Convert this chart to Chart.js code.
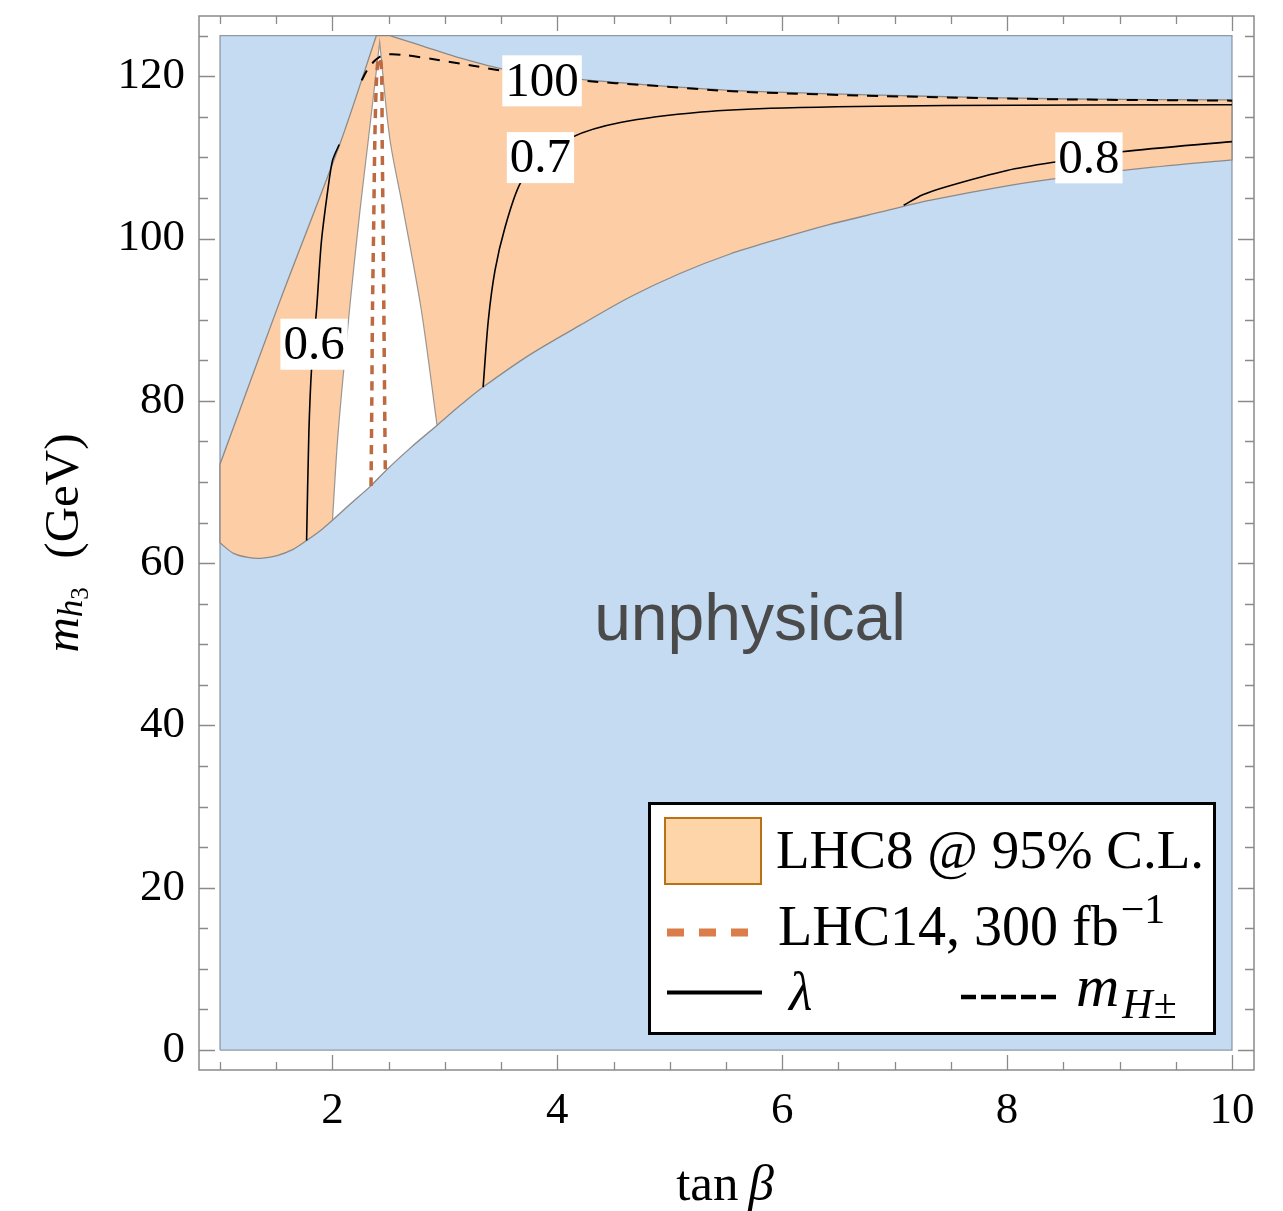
<!DOCTYPE html>
<html>
<head>
<meta charset="utf-8">
<script src="https://cdn.jsdelivr.net/npm/chart.js@4.4.1/dist/chart.umd.min.js"></script>
<style>
html, body { margin: 0; padding: 0; background: #fff; }
#wrap { width: 1283px; height: 1211px; position: relative; }
</style>
</head>
<body>
<div id="wrap"><canvas id="myChart"></canvas></div>
<script>
// all points as [tan beta, m_h3 (GeV)]

// edge of the physical region (blue below it is unphysical)
var lowerEdge = [
    [1.0, 62.5], [1.12, 61.2], [1.25, 60.7], [1.36, 60.6], [1.5, 60.9], [1.65, 61.7],
    [1.77, 62.8], [1.9, 64.1], [2.0, 65.3], [2.15, 67.2], [2.33, 69.4], [2.48, 71.5],
    [2.7, 74.3], [2.93, 77.0], [3.15, 79.6], [3.34, 81.7], [3.757, 85.7], [4.2, 89.3],
    [4.646, 92.8], [5.09, 95.7], [5.536, 98.1], [5.98, 100.0], [6.425, 101.75], [6.87, 103.25],
    [7.31, 104.7], [8.0, 106.5], [8.55, 107.6], [9.3, 108.8], [10.0, 109.7]
];
// top of the physical region
var upperEdge = [
    [1.0, 72.2], [1.53, 92.2], [2.07, 111.8], [2.39, 125.0], [2.51, 125.0], [2.65, 124.4],
    [2.81, 123.7], [3.1, 122.4], [3.55, 120.8], [4.14, 119.7], [4.74, 119.0], [5.64, 118.2],
    [7.1, 117.6], [8.55, 117.2], [10.0, 117.1]
];
// physical but outside the LHC8 95% region
var gapLeft = [[2.0, 65.3], [2.05, 76.0], [2.16, 92.4], [2.245, 103.5], [2.32, 112.3], [2.42, 124.2]];
var gapRight = [[2.42, 124.2], [2.51, 112.3], [2.63, 103.5], [2.79, 91.2], [2.93, 77.0]];
var physBox = [[1, 0], [1, 125], [10, 125], [10, 0], [1, 0]];

// lambda contours
var lambda06 = [
    [1.77, 62.8], [1.79, 76.0], [1.815, 84.2], [1.86, 91.5], [1.9, 99.4], [1.95, 105.1],
    [2.0, 109.6], [2.06, 111.6]
];
var lambda07 = [
    [3.34, 81.7], [3.386, 89.9], [3.446, 96.1], [3.535, 101.4], [3.67, 106.8], [3.85, 109.8],
    [4.13, 112.5], [4.56, 114.3], [5.28, 115.6], [6.01, 116.1], [7.46, 116.4], [10.0, 116.5]
];
var lambda08 = [
    [7.08, 104.1], [7.25, 105.4], [7.46, 106.4], [8.0, 108.4], [8.5, 109.6], [9.02, 110.7],
    [10.0, 111.95]
];
// m_H+- = 100 GeV contour
var chargedMass100 = [
    [2.26, 119.5], [2.31, 120.8], [2.36, 121.7], [2.42, 122.4], [2.5, 122.7], [2.65, 122.6],
    [2.9, 122.1], [3.25, 121.3], [3.55, 120.6], [4.29, 119.4], [4.74, 118.95], [5.64, 118.1],
    [7.1, 117.5], [8.55, 117.15], [10.0, 117.0]
];
// LHC14 300 fb^-1 reach
var lhc14 = [
    [2.343, 69.5], [2.35, 80.0], [2.356, 91.2], [2.367, 102.0], [2.377, 112.3], [2.39, 119.0],
    [2.405, 121.9], [2.425, 122.3], [2.438, 120.0], [2.442, 112.3], [2.45, 102.0],
    [2.457, 91.2], [2.464, 80.0], [2.47, 71.4]
];

var xTickValues = [1, 1.5, 2, 2.5, 3, 3.5, 4, 4.5, 5, 5.5, 6, 6.5, 7, 7.5, 8, 8.5, 9, 9.5, 10];
var xTickLabels = [2, 4, 6, 8, 10];
var yTickValues = [0, 5, 10, 15, 20, 25, 30, 35, 40, 45, 50, 55, 60, 65, 70, 75, 80, 85, 90,
    95, 100, 105, 110, 115, 120, 125];
var yTickLabels = [0, 20, 40, 60, 80, 100, 120];

var contourTexts = ['100', '0.7', '0.8', '0.6'];
var contourAt = [[3.864, 119.44], [3.85, 109.98], [8.728, 109.95], [1.836, 86.98]];

var SERIF = '"Liberation Serif", "Times New Roman", serif';

function pts(arr) {
    return arr.map(function(p) { return {x: p[0], y: p[1]}; });
}
// a repeated point keeps a sharp corner on a smoothed outline
function corner(p) { return [p, p]; }

var lowerInGap = lowerEdge.filter(function(p) { return p[0] > 2.0 && p[0] < 2.93; });

var orangeShape = [].concat(
    lowerEdge.slice(0, -1),
    corner(lowerEdge[lowerEdge.length - 1]),
    corner(upperEdge[upperEdge.length - 1]),
    upperEdge.slice(5, -1).reverse(),
    corner(upperEdge[4]), corner(upperEdge[3]),
    upperEdge.slice(1, 3).reverse(),
    corner(upperEdge[0]),
    [lowerEdge[0]]
);
var gapShape = [].concat(
    gapLeft.slice(0, -1),
    corner(gapLeft[gapLeft.length - 1]),
    gapRight.slice(1, -1),
    corner(gapRight[gapRight.length - 1]),
    lowerInGap.slice().reverse(),
    [gapLeft[0]]
);

function runs(ctx, parts, x, y) {
    parts.forEach(function(p) {
        ctx.font = p.f;
        ctx.fillText(p.t, x + (p.dx || 0), y + (p.dy || 0));
        x += ctx.measureText(p.t).width + (p.dx || 0);
    });
    return x;
}
function runsWidth(ctx, parts) {
    var w = 0;
    parts.forEach(function(p) { ctx.font = p.f; w += ctx.measureText(p.t).width + (p.dx || 0); });
    return w;
}

var frameTicks = {
    id: 'frameTicks',
    afterDraw: function(chart) {
        var ctx = chart.ctx, a = chart.chartArea;
        var xs = chart.scales.x, ys = chart.scales.y;
        ctx.save();
        ctx.strokeStyle = '#8a8a8a';
        ctx.lineWidth = 1.5;
        ctx.strokeRect(a.left, a.top, a.right - a.left, a.bottom - a.top);
        ctx.lineWidth = 1.3;
        ctx.beginPath();
        xs.ticks.forEach(function(t) {
            var px = Math.round(xs.getPixelForValue(t.value)) + 0.5;
            var len = xTickLabels.indexOf(t.value) >= 0 ? 15 : 8;
            ctx.moveTo(px, a.bottom); ctx.lineTo(px, a.bottom - len);
            ctx.moveTo(px, a.top); ctx.lineTo(px, a.top + len);
        });
        ys.ticks.forEach(function(t) {
            var py = Math.round(ys.getPixelForValue(t.value)) + 0.5;
            var len = yTickLabels.indexOf(t.value) >= 0 ? 16 : 9;
            ctx.moveTo(a.left, py); ctx.lineTo(a.left + len, py);
            ctx.moveTo(a.right, py); ctx.lineTo(a.right - len, py);
        });
        ctx.stroke();
        ctx.restore();
    }
};

var textLayer = {
    id: 'textLayer',
    afterDatasetsDraw: function(chart) {
        var ctx = chart.ctx, xs = chart.scales.x, ys = chart.scales.y;
        ctx.save();
        ctx.font = '49px ' + SERIF;
        ctx.textBaseline = 'middle';
        ctx.textAlign = 'center';
        contourTexts.forEach(function(txt, i) {
            var cx = xs.getPixelForValue(contourAt[i][0]);
            var cy = ys.getPixelForValue(contourAt[i][1]);
            var w = ctx.measureText(txt).width + 6;
            ctx.fillStyle = '#fff';
            ctx.fillRect(cx - w / 2, cy - 25.5, w, 51);
            ctx.fillStyle = '#000';
            ctx.fillText(txt, cx, cy + 2);
        });
        ctx.font = '66px "Liberation Sans", Arial, sans-serif';
        ctx.fillStyle = '#4a4a4a';
        ctx.textBaseline = 'alphabetic';
        ctx.fillText('unphysical', xs.getPixelForValue(5.714), ys.getPixelForValue(50.5));
        ctx.restore();
    },
    afterDraw: function(chart) {
        var ctx = chart.ctx;
        ctx.save();
        ctx.fillStyle = '#000';
        ctx.textAlign = 'left';
        ctx.textBaseline = 'alphabetic';

        // x title
        var xt = [
            {t: 'tan', f: '51px ' + SERIF},
            {t: '\u03B2', f: 'italic 51px ' + SERIF, dx: 10}
        ];
        runs(ctx, xt, 725 - runsWidth(ctx, xt) / 2, 1200);

        // y title
        var yt = [
            {t: 'm', f: 'italic 49px ' + SERIF},
            {t: 'h', f: 'italic 35px ' + SERIF, dy: 4},
            {t: '3', f: '25px ' + SERIF, dy: 10},
            {t: '  (GeV)', f: '49px ' + SERIF, dx: 4}
        ];
        ctx.translate(78, 543);
        ctx.rotate(-Math.PI / 2);
        runs(ctx, yt, -runsWidth(ctx, yt) / 2, 0);
        ctx.setTransform(1, 0, 0, 1, 0, 0);

        // legend
        ctx.fillStyle = '#fff';
        ctx.fillRect(649, 803, 565, 230);
        ctx.strokeStyle = '#000';
        ctx.lineWidth = 3;
        ctx.strokeRect(649.5, 803.5, 565, 230);

        ctx.fillStyle = '#fed4a9';
        ctx.fillRect(665, 818, 96, 66);
        ctx.strokeStyle = '#b87213';
        ctx.lineWidth = 2;
        ctx.strokeRect(665, 818, 96, 66);

        ctx.fillStyle = '#000';
        ctx.font = '55px ' + SERIF;
        ctx.fillText('LHC8 @ 95% C.L.', 776, 868);

        ctx.strokeStyle = '#da7d48';
        ctx.lineWidth = 8;
        ctx.setLineDash([17, 15]);
        ctx.beginPath(); ctx.moveTo(667, 932.5); ctx.lineTo(749, 932.5); ctx.stroke();
        runs(ctx, [
            {t: 'LHC14, 300 fb', f: '56px ' + SERIF},
            {t: '\u22121', f: '42px ' + SERIF, dy: -22, dx: 2}
        ], 778, 945);

        ctx.strokeStyle = '#000';
        ctx.lineWidth = 4;
        ctx.setLineDash([]);
        ctx.beginPath(); ctx.moveTo(667, 992.5); ctx.lineTo(762, 992.5); ctx.stroke();
        ctx.font = 'italic 54px ' + SERIF;
        ctx.fillText('\u03BB', 789, 1010);

        ctx.lineWidth = 4.5;
        ctx.setLineDash([15, 5]);
        ctx.beginPath(); ctx.moveTo(961, 997); ctx.lineTo(1056, 997); ctx.stroke();
        ctx.setLineDash([]);
        runs(ctx, [
            {t: 'm', f: 'italic 60px ' + SERIF},
            {t: 'H', f: 'italic 42px ' + SERIF, dy: 12, dx: 3},
            {t: '\u00B1', f: '42px ' + SERIF, dy: 12, dx: 1}
        ], 1076, 1006);

        ctx.restore();
    }
};

var lineDefaults = {showLine: true, pointRadius: 0, fill: false};

function ds(extra) {
    return Object.assign({}, lineDefaults, extra);
}

var ctx = document.getElementById('myChart').getContext('2d');
var myChart = new Chart(ctx, {
    type: 'scatter',
    data: {
        datasets: [
            ds({label: 'LHC14', data: pts(lhc14), borderColor: '#bd6a40', borderWidth: 3.5,
                borderDash: [9, 7], tension: 0.3}),
            ds({label: 'mH100', data: pts(chargedMass100), borderColor: '#000', borderWidth: 2,
                borderDash: [11, 9], tension: 0.3}),
            ds({label: 'l06', data: pts(lambda06), borderColor: '#000', borderWidth: 1.6, tension: 0.25}),
            ds({label: 'l07', data: pts(lambda07), borderColor: '#000', borderWidth: 1.6, tension: 0.3}),
            ds({label: 'l08', data: pts(lambda08), borderColor: '#000', borderWidth: 1.6, tension: 0.3}),
            ds({label: 'gap', data: pts(gapShape), borderColor: 'rgba(130,130,130,0.8)', borderWidth: 1.2,
                backgroundColor: '#ffffff', fill: 'shape', tension: 0.3}),
            ds({label: 'LHC8', data: pts(orangeShape), borderColor: 'rgba(125,125,125,0.85)', borderWidth: 1.3,
                backgroundColor: '#fdcea6', fill: 'shape', tension: 0.3}),
            ds({label: 'box', data: pts(physBox), borderColor: '#8e99a8', borderWidth: 1.3,
                backgroundColor: '#c5dbf2', fill: 'shape'})
        ]
    },
    options: {
        responsive: true,
        maintainAspectRatio: false,
        animation: false,
        devicePixelRatio: 1,
        events: [],
        layout: {padding: {left: 0, right: 29, top: 16, bottom: 0}},
        plugins: {
            legend: {display: false},
            tooltip: {enabled: false}
        },
        scales: {
            x: {
                type: 'linear',
                min: 0.813,
                max: 10.196,
                afterBuildTicks: function(axis) {
                    axis.ticks = xTickValues.map(function(v) { return {value: v}; });
                },
                afterFit: function(axis) {
                    axis.height = 141;
                    axis.paddingLeft = 0;
                    axis.paddingRight = 0;
                },
                grid: {display: false, drawTicks: false},
                border: {display: false},
                ticks: {
                    padding: 14,
                    autoSkip: false,
                    maxRotation: 0,
                    color: '#000',
                    font: {family: SERIF, size: 45},
                    callback: function(v) { return xTickLabels.indexOf(v) >= 0 ? String(v) : ''; }
                }
            },
            y: {
                type: 'linear',
                min: -2.46,
                max: 127.43,
                afterBuildTicks: function(axis) {
                    axis.ticks = yTickValues.map(function(v) { return {value: v}; });
                },
                afterFit: function(axis) {
                    axis.width = 199;
                    axis.paddingTop = 0;
                    axis.paddingBottom = 0;
                },
                grid: {display: false, drawTicks: false},
                border: {display: false},
                ticks: {
                    padding: 14,
                    autoSkip: false,
                    color: '#000',
                    font: {family: SERIF, size: 45},
                    callback: function(v) { return yTickLabels.indexOf(v) >= 0 ? String(v) : ''; }
                }
            }
        }
    },
    plugins: [frameTicks, textLayer]
});
</script>
</body>
</html>
